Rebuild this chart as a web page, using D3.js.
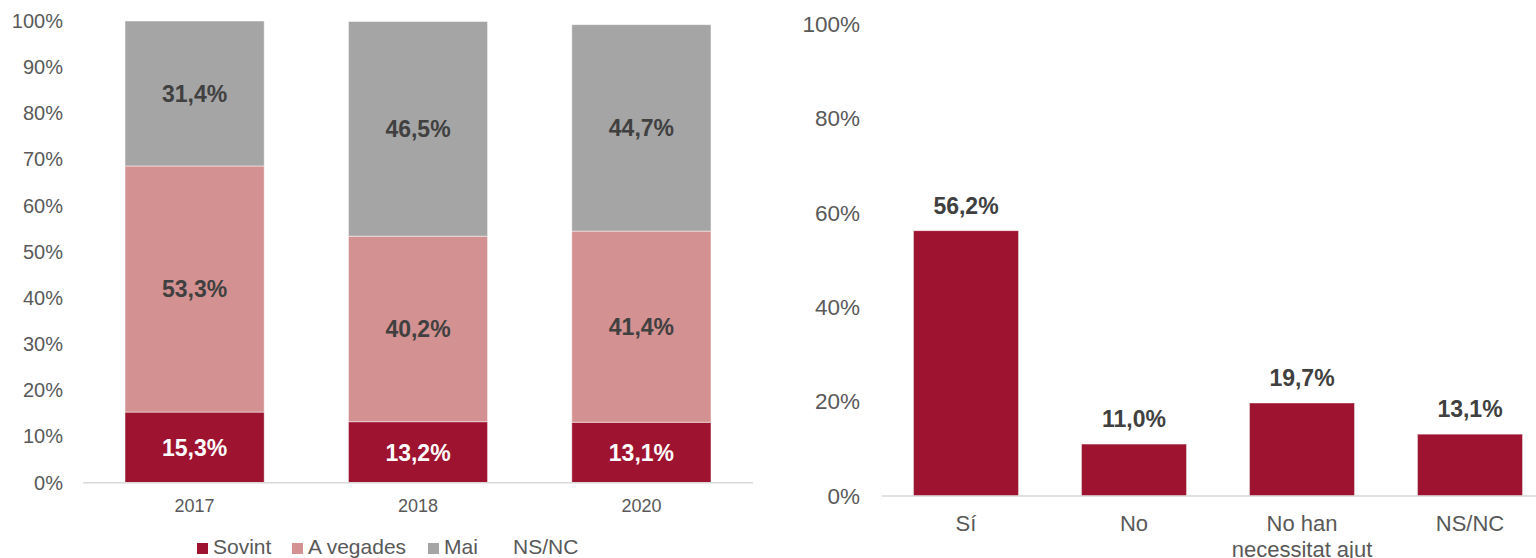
<!DOCTYPE html>
<html>
<head>
<meta charset="utf-8">
<script src="https://cdn.jsdelivr.net/npm/d3@7"></script>
<style>
  body { margin: 0; background: #fff; }
  svg { display: block; font-family: "Liberation Sans", Arial, sans-serif; }
</style>
</head>
<body>
<svg id="chart" width="1536" height="558"></svg>
<script>
// left chart: frequency by year
var years = ['2017', '2018', '2020'];
var sovint = [15.3, 13.2, 13.1];
var aVegades = [53.3, 40.2, 41.4];
var mai = [31.4, 46.5, 44.7];
var nsnc = [0, 0, 0];
var seriesNames = ['Sovint', 'A vegades', 'Mai', 'NS/NC'];
var leftTicks = [0, 10, 20, 30, 40, 50, 60, 70, 80, 90, 100];

// right chart: help received
var helpCats = ['Sí', 'No', 'No han necessitat ajut', 'NS/NC'];
var helpVals = [56.2, 11.0, 19.7, 13.1];
var rightTicks = [0, 20, 40, 60, 80, 100];

var colors = ['#9E1330', '#D39291', '#A5A5A5', '#FFFFFF'];
var labelColors = ['#FFFFFF', '#404040', '#404040', '#404040'];

var loc = d3.formatLocale({decimal: ',', thousands: '.', grouping: [3], currency: ['', '€']});
var fmt1 = loc.format('.1f');
var pct = function(v) { return fmt1(v) + '%'; };

var svg = d3.select('#chart');

/* ---------- left: stacked bars ---------- */
var x1 = d3.scaleBand().domain(years).range([83, 753])
    .paddingInner(0.377).paddingOuter(0.188);
var y1 = d3.scaleLinear().domain([0, 100]).range([482.7, 21]);

var rows = years.map(function(yr, i) {
  return {year: yr, 'Sovint': sovint[i], 'A vegades': aVegades[i], 'Mai': mai[i], 'NS/NC': nsnc[i]};
});
var stacked = d3.stack().keys(seriesNames)(rows);

var gl = svg.append('g');

var yAxisL = gl.append('g')
  .attr('transform', 'translate(67,0)')
  .call(d3.axisLeft(y1).tickValues(leftTicks).tickSize(0).tickFormat(function(d) { return d + '%'; }));
yAxisL.select('.domain').remove();
yAxisL.selectAll('text')
  .attr('x', -4)
  .style('font-size', '20px')
  .style('font-family', '"Liberation Sans", Arial, sans-serif')
  .attr('fill', '#595959');

stacked.forEach(function(layer, li) {
  gl.append('g').selectAll('rect')
    .data(layer)
    .enter().append('rect')
      .attr('x', function(d) { return x1(d.data.year); })
      .attr('y', function(d) { return y1(d[1]); })
      .attr('width', x1.bandwidth())
      .attr('height', function(d) { return y1(d[0]) - y1(d[1]); })
      .attr('fill', colors[li])
      .attr('stroke', li < 3 ? '#fff' : 'none')
      .attr('stroke-opacity', 0.6)
      .attr('stroke-width', 0.8);
});

gl.append('line')
  .attr('x1', 83).attr('x2', 753)
  .attr('y1', y1(0)).attr('y2', y1(0))
  .attr('stroke', '#D9D9D9').attr('stroke-width', 1.5);

stacked.forEach(function(layer, li) {
  if (li > 2) { return; }
  gl.append('g').selectAll('text')
    .data(layer)
    .enter().append('text')
      .attr('x', function(d) { return x1(d.data.year) + x1.bandwidth() / 2; })
      .attr('y', function(d) { return (y1(d[0]) + y1(d[1])) / 2; })
      .attr('dy', '0.36em')
      .attr('text-anchor', 'middle')
      .attr('font-size', '23px')
      .attr('font-weight', 'bold')
      .attr('fill', labelColors[li])
      .text(function(d) { return pct(d[1] - d[0]); });
});

var xAxisL = gl.append('g')
  .attr('transform', 'translate(0,' + y1(0) + ')')
  .call(d3.axisBottom(x1).tickSize(0));
xAxisL.select('.domain').remove();
xAxisL.selectAll('text')
  .attr('y', 17)
  .style('font-size', '18px')
  .style('font-family', '"Liberation Sans", Arial, sans-serif')
  .attr('fill', '#595959');

// legend
var legendX = [197, 292, 428, 513];
var leg = gl.append('g').selectAll('g')
  .data(seriesNames)
  .enter().append('g')
    .attr('transform', function(d, i) { return 'translate(' + legendX[i] + ',543)'; });
leg.append('rect')
  .attr('width', 11).attr('height', 11)
  .attr('fill', function(d, i) { return colors[i]; });
leg.append('text')
  .attr('x', function(d, i) { return i < 3 ? 16 : 0; })
  .attr('y', 11)
  .attr('font-size', '21px')
  .attr('fill', '#595959')
  .text(function(d) { return d; });

/* ---------- right: simple bars ---------- */
var x2 = d3.scaleBand().domain(helpCats).range([882, 1554])
    .paddingInner(0.375).paddingOuter(0.1875);
var y2 = d3.scaleLinear().domain([0, 100]).range([496, 24]);

var gr = svg.append('g');

var yAxisR = gr.append('g')
  .attr('transform', 'translate(864,0)')
  .call(d3.axisLeft(y2).tickValues(rightTicks).tickSize(0).tickFormat(function(d) { return d + '%'; }));
yAxisR.select('.domain').remove();
yAxisR.selectAll('text')
  .attr('x', -4)
  .style('font-size', '22.5px')
  .style('font-family', '"Liberation Sans", Arial, sans-serif')
  .attr('fill', '#595959');

gr.append('g').selectAll('rect')
  .data(helpVals)
  .enter().append('rect')
    .attr('x', function(d, i) { return x2(helpCats[i]); })
    .attr('y', function(d) { return y2(d); })
    .attr('width', x2.bandwidth())
    .attr('height', function(d) { return y2(0) - y2(d); })
    .attr('fill', colors[0])
    .attr('stroke', '#fff').attr('stroke-opacity', 0.5).attr('stroke-width', 0.8);

gr.append('line')
  .attr('x1', 882).attr('x2', 1554)
  .attr('y1', y2(0)).attr('y2', y2(0))
  .attr('stroke', '#D9D9D9').attr('stroke-width', 1.5);

gr.append('g').selectAll('text')
  .data(helpVals)
  .enter().append('text')
    .attr('x', function(d, i) { return x2(helpCats[i]) + x2.bandwidth() / 2; })
    .attr('y', function(d) { return y2(d) - 17; })
    .attr('text-anchor', 'middle')
    .attr('font-size', '23px')
    .attr('font-weight', 'bold')
    .attr('fill', '#404040')
    .text(function(d) { return pct(d); });

var xAxisR = gr.append('g')
  .attr('transform', 'translate(0,' + y2(0) + ')')
  .call(d3.axisBottom(x2).tickSize(0));
xAxisR.select('.domain').remove();
xAxisR.selectAll('text')
  .attr('y', 19)
  .style('font-size', '22px')
  .style('font-family', '"Liberation Sans", Arial, sans-serif')
  .attr('fill', '#595959')
  .call(wrap, x2.step() - 20);

function wrap(texts, width) {
  texts.each(function() {
    var text = d3.select(this),
        words = text.text().split(/\s+/),
        y = text.attr('y'),
        dy = parseFloat(text.attr('dy')) || 0,
        line = [],
        lineNo = 0,
        tspan = text.text(null).append('tspan').attr('x', 0).attr('y', y).attr('dy', dy + 'em');
    words.forEach(function(w) {
      line.push(w);
      tspan.text(line.join(' '));
      if (tspan.node().getComputedTextLength() > width && line.length > 1) {
        line.pop();
        tspan.text(line.join(' '));
        line = [w];
        tspan = text.append('tspan').attr('x', 0).attr('y', y)
          .attr('dy', (++lineNo * 1.18 + dy) + 'em').text(w);
      }
    });
  });
}
</script>
</body>
</html>
